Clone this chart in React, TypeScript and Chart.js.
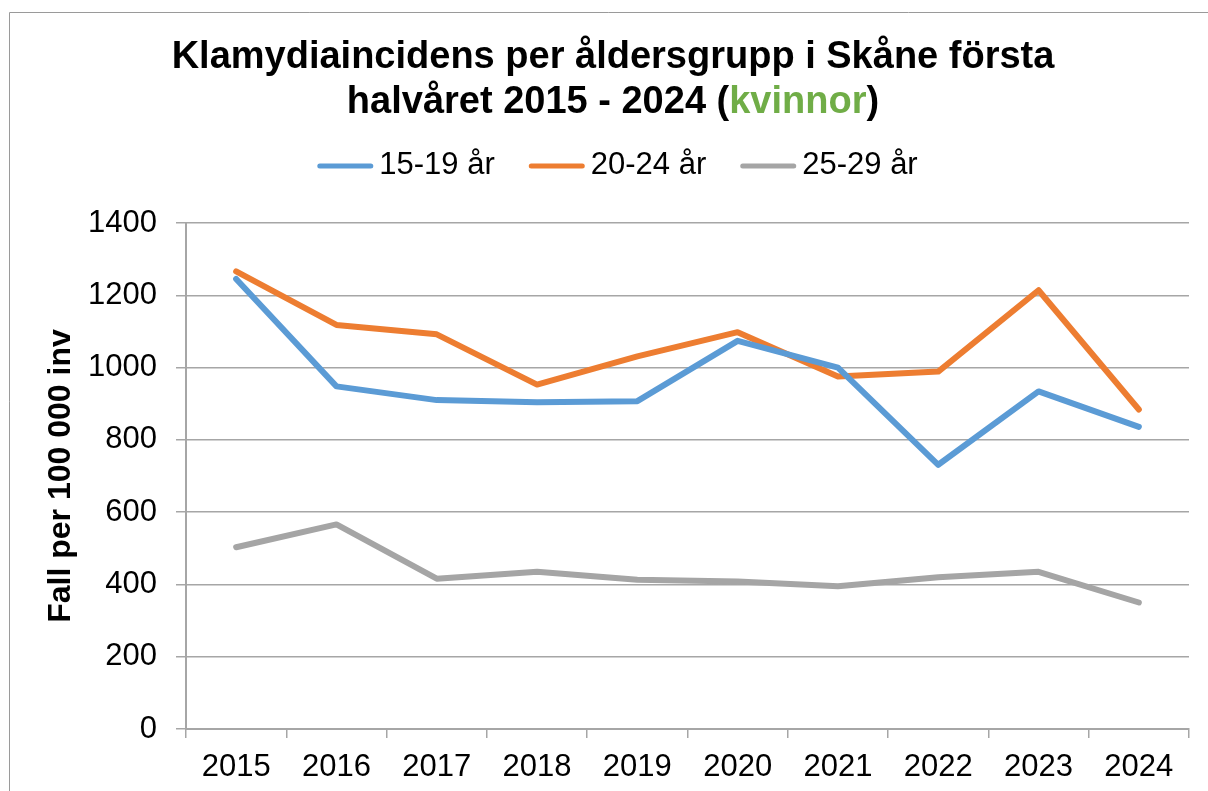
import React, { useEffect, useRef } from "react";
import { Chart, registerables } from "chart.js";

Chart.register(...registerables);

const years = ["2015", "2016", "2017", "2018", "2019", "2020", "2021", "2022", "2023", "2024"];
const age1519 = [1245, 948, 910, 904, 907, 1074, 1000, 731, 934, 836];
const age2024 = [1266, 1118, 1092, 953, 1031, 1098, 975, 989, 1214, 884];
const age2529 = [503, 566, 416, 435, 413, 408, 395, 420, 435, 350];
const seriesNames = ["15-19 år", "20-24 år", "25-29 år"];
const seriesColors = ["#5B9BD5", "#ED7D31", "#A5A5A5"];
const yTicks = [0, 200, 400, 600, 800, 1000, 1200, 1400];

const titleLine1 = "Klamydiaincidens per åldersgrupp i Skåne första";
const titleLine2Parts = [
  { text: "halvåret 2015 - 2024 (", color: "#000000" },
  { text: "kvinnor", color: "#70AD47" },
  { text: ")", color: "#000000" },
];
const yAxisTitle = "Fall per 100 000 inv";

const FONT = "'Liberation Sans', Arial, Helvetica, sans-serif";
const W = 1208;
const H = 791;

const decorPlugin = {
  id: "decor",
  beforeDraw(chart: any) {
    const ctx = chart.ctx;
    ctx.save();
    ctx.fillStyle = "#ffffff";
    ctx.fillRect(0, 0, chart.width, chart.height);
    ctx.strokeStyle = "#9a9a9a";
    ctx.lineWidth = 1;
    ctx.beginPath();
    ctx.moveTo(9.5, H);
    ctx.lineTo(9.5, 12.5);
    ctx.lineTo(W, 12.5);
    ctx.stroke();
    ctx.restore();
  },
  afterDraw(chart: any) {
    const ctx = chart.ctx;
    ctx.save();
    // Title
    ctx.font = `bold 38px ${FONT}`;
    ctx.textBaseline = "alphabetic";
    ctx.textAlign = "left";
    const cx = 613;
    const w1 = ctx.measureText(titleLine1).width;
    ctx.fillStyle = "#000";
    ctx.fillText(titleLine1, cx - w1 / 2, 68);
    const total2 = titleLine2Parts.reduce((s, p) => s + ctx.measureText(p.text).width, 0);
    let x2 = cx - total2 / 2;
    for (const p of titleLine2Parts) {
      ctx.fillStyle = p.color;
      ctx.fillText(p.text, x2, 113);
      x2 += ctx.measureText(p.text).width;
    }
    // Legend
    ctx.font = `31px ${FONT}`;
    const lineLen = 56;
    const gapText = 6;
    const gapItem = 34;
    const datasets = chart.data.datasets;
    const widths = datasets.map((d: any) => ctx.measureText(d.label).width);
    const totalW =
      widths.reduce((s: number, w: number) => s + w, 0) +
      datasets.length * (lineLen + gapText) +
      (datasets.length - 1) * gapItem;
    let lx = 617.5 - totalW / 2;
    const ly = 166;
    datasets.forEach((d: any, i: number) => {
      ctx.strokeStyle = d.borderColor;
      ctx.lineWidth = 5;
      ctx.lineCap = "round";
      ctx.beginPath();
      ctx.moveTo(lx + 2.5, ly);
      ctx.lineTo(lx + lineLen - 2.5, ly);
      ctx.stroke();
      ctx.fillStyle = "#000";
      ctx.fillText(d.label, lx + lineLen + gapText, 174);
      lx += lineLen + gapText + widths[i] + gapItem;
    });
    ctx.restore();
  },
};

export default function App() {
  const ref = useRef<HTMLCanvasElement | null>(null);
  useEffect(() => {
    document.body.style.margin = "0";
    document.body.style.overflow = "hidden";
    if (!ref.current) return;
    const allSeries = [age1519, age2024, age2529];
    const chart = new Chart(ref.current, {
      type: "line",
      data: {
        labels: years,
        datasets: allSeries.map((vals, i) => ({
          label: seriesNames[i],
          data: vals,
          borderColor: seriesColors[i],
          backgroundColor: seriesColors[i],
          borderWidth: 6,
          borderCapStyle: "round",
          borderJoinStyle: "round",
          pointRadius: 0,
          pointHoverRadius: 0,
          tension: 0,
          fill: false,
        })),
      },
      options: {
        responsive: false,
        animation: false,
        events: [],
        layout: { padding: { top: 223, right: 19, left: 0, bottom: 0 } },
        plugins: {
          legend: { display: false },
          title: { display: false },
          tooltip: { enabled: false },
        },
        scales: {
          x: {
            type: "category",
            offset: true,
            grid: {
              offset: true,
              drawOnChartArea: false,
              drawTicks: true,
              tickLength: 9,
              color: "#a6a6a6",
              lineWidth: 1.5,
            },
            border: { display: true, color: "#a6a6a6", width: 2 },
            ticks: {
              color: "#000",
              font: { family: FONT, size: 31 },
              padding: 11,
              maxRotation: 0,
              autoSkip: false,
            },
            afterFit(scale: any) {
              scale.height = 62;
            },
          },
          y: {
            min: 0,
            max: 1400,
            afterBuildTicks(scale: any) {
              scale.ticks = yTicks.map((v) => ({ value: v }));
            },
            grid: {
              color: "#a6a6a6",
              lineWidth: 1.5,
              drawTicks: true,
              tickLength: 10,
            },
            border: { display: true, color: "#a6a6a6", width: 2 },
            ticks: {
              color: "#000",
              font: { family: FONT, size: 31 },
              padding: 19,
              callback: (v: any) => String(v),
            },
            title: {
              display: true,
              text: yAxisTitle,
              color: "#000",
              font: { family: FONT, size: 32, weight: "bold" },
              padding: { top: 42, bottom: 0 },
            },
            afterFit(scale: any) {
              scale.width = 186;
            },
          },
        },
      },
      plugins: [decorPlugin],
    } as any);
    return () => chart.destroy();
  }, []);
  return (
    <canvas
      ref={ref}
      width={W}
      height={H}
      style={{ display: "block", width: W + "px", height: H + "px" }}
    />
  );
}
